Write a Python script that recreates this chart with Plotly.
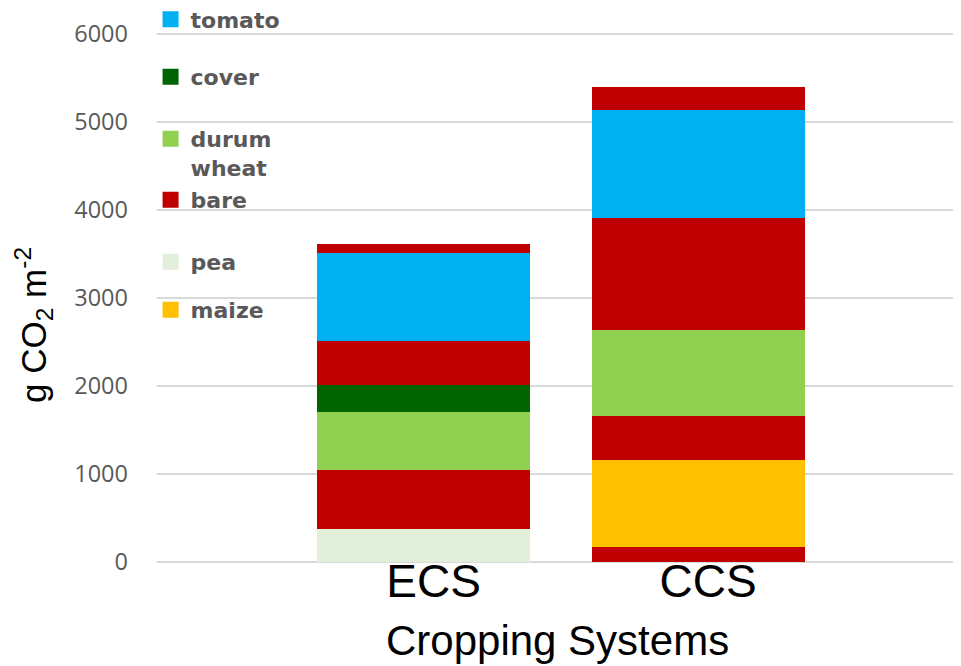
import plotly.graph_objects as go

systems = ["ECS", "CCS"]

# stacked segments, bottom to top (None = segment absent in that system)
pea_vals = [370, None]
bare1_vals = [None, 170]
maize_vals = [None, 990]
bare2_vals = [670, 500]
durum_vals = [665, 980]
cover_vals = [305, None]
bare3_vals = [505, 1265]
tomato_vals = [1000, 1225]
bare4_vals = [95, 270]

y_ticks = [0, 1000, 2000, 3000, 4000, 5000, 6000]
legend_keys = ["tomato", "cover", "durum wheat", "bare", "pea", "maize"]
legend_labels = ["tomato", "cover", "durum<br>wheat", "bare", "pea", "maize"]

colors = {
    "pea": "#E2EFDA",
    "bare": "#C00000",
    "maize": "#FFC000",
    "durum wheat": "#92D050",
    "cover": "#006400",
    "tomato": "#00B0F0",
}

segments = [
    ("pea", pea_vals), ("bare", bare1_vals), ("maize", maize_vals),
    ("bare", bare2_vals), ("durum wheat", durum_vals), ("cover", cover_vals),
    ("bare", bare3_vals), ("tomato", tomato_vals), ("bare", bare4_vals),
]

fig = go.Figure()
for name, vals in segments:
    fig.add_trace(go.Bar(
        x=systems, y=vals, name=name, showlegend=False,
        marker=dict(color=colors[name], line=dict(width=0)),
    ))

legend_ids = ["legend", "legend2", "legend3", "legend4", "legend5", "legend6"]
for key, lab, lid in zip(legend_keys, legend_labels, legend_ids):
    fig.add_trace(go.Scatter(
        x=[None], y=[None], mode="markers", name=lab, legend=lid,
        marker=dict(symbol="square", size=16, color=colors[key]),
        showlegend=True,
    ))

# page has an 8px body margin; figure sized so it ends at the window edge
PAGE_OFF = 8
plot_top, plot_bot = 25, 562          # window pixel rows of plot area
plot_left, plot_right = 157, 961
ph = plot_bot - plot_top
pw = plot_right - plot_left
centers_px = [19.5, 77, 134, 200, 262, 310]   # legend symbol rows

leg_font = dict(family="DejaVu Sans", size=22, color="#595959", weight="bold")
layout_legends = {}
for lid, cpx, key in zip(legend_ids, centers_px, legend_keys):
    yv = (plot_bot - cpx) / ph
    d = dict(x=-0.008, xanchor="left", y=yv, yanchor="middle",
             bgcolor="rgba(0,0,0,0)", font=leg_font, itemclick=False,
             itemdoubleclick=False)
    if key == "durum wheat":
        d.update(valign="top", yanchor="top", y=yv + 16 / ph)
    layout_legends[lid] = d

fig.update_layout(
    width=961 - PAGE_OFF, height=666 - PAGE_OFF,
    margin=dict(l=plot_left - PAGE_OFF, r=0, t=plot_top - PAGE_OFF,
                b=666 - plot_bot, autoexpand=False),
    paper_bgcolor="white", plot_bgcolor="white",
    barmode="stack", bargap=0.224,
    xaxis=dict(
        type="category", range=[-0.971, 1.958],
        tickfont=dict(family="Liberation Sans", size=46, color="black"),
        ticks="", showgrid=False, zeroline=False, showline=False,
        ticklabelshift=10, ticklabelstandoff=-12,
    ),
    yaxis=dict(
        range=[0, 6100], tickvals=y_ticks,
        tickfont=dict(family="Open Sans", size=23.5, color="#595959"),
        ticks="", showgrid=True, gridcolor="#D9D9D9", gridwidth=1.5,
        zeroline=True, zerolinecolor="#D9D9D9", zerolinewidth=1.5,
        showline=False, ticklabelstandoff=28,
    ),
    annotations=[
        dict(text="g CO<sub>2</sub> m<sup>-2</sup>", textangle=-90,
             xref="paper", yref="paper", x=(33 - plot_left) / pw,
             y=(plot_bot - 325) / ph, xanchor="center", yanchor="middle",
             showarrow=False,
             font=dict(family="Liberation Sans", size=35, color="black")),
        dict(text="Cropping Systems",
             xref="paper", yref="paper", x=(557.5 - plot_left) / pw,
             y=(plot_bot - 640.5) / ph, xanchor="center", yanchor="middle",
             showarrow=False,
             font=dict(family="Liberation Sans", size=42, color="black")),
    ],
    **layout_legends,
)

fig.write_html("out.html")
